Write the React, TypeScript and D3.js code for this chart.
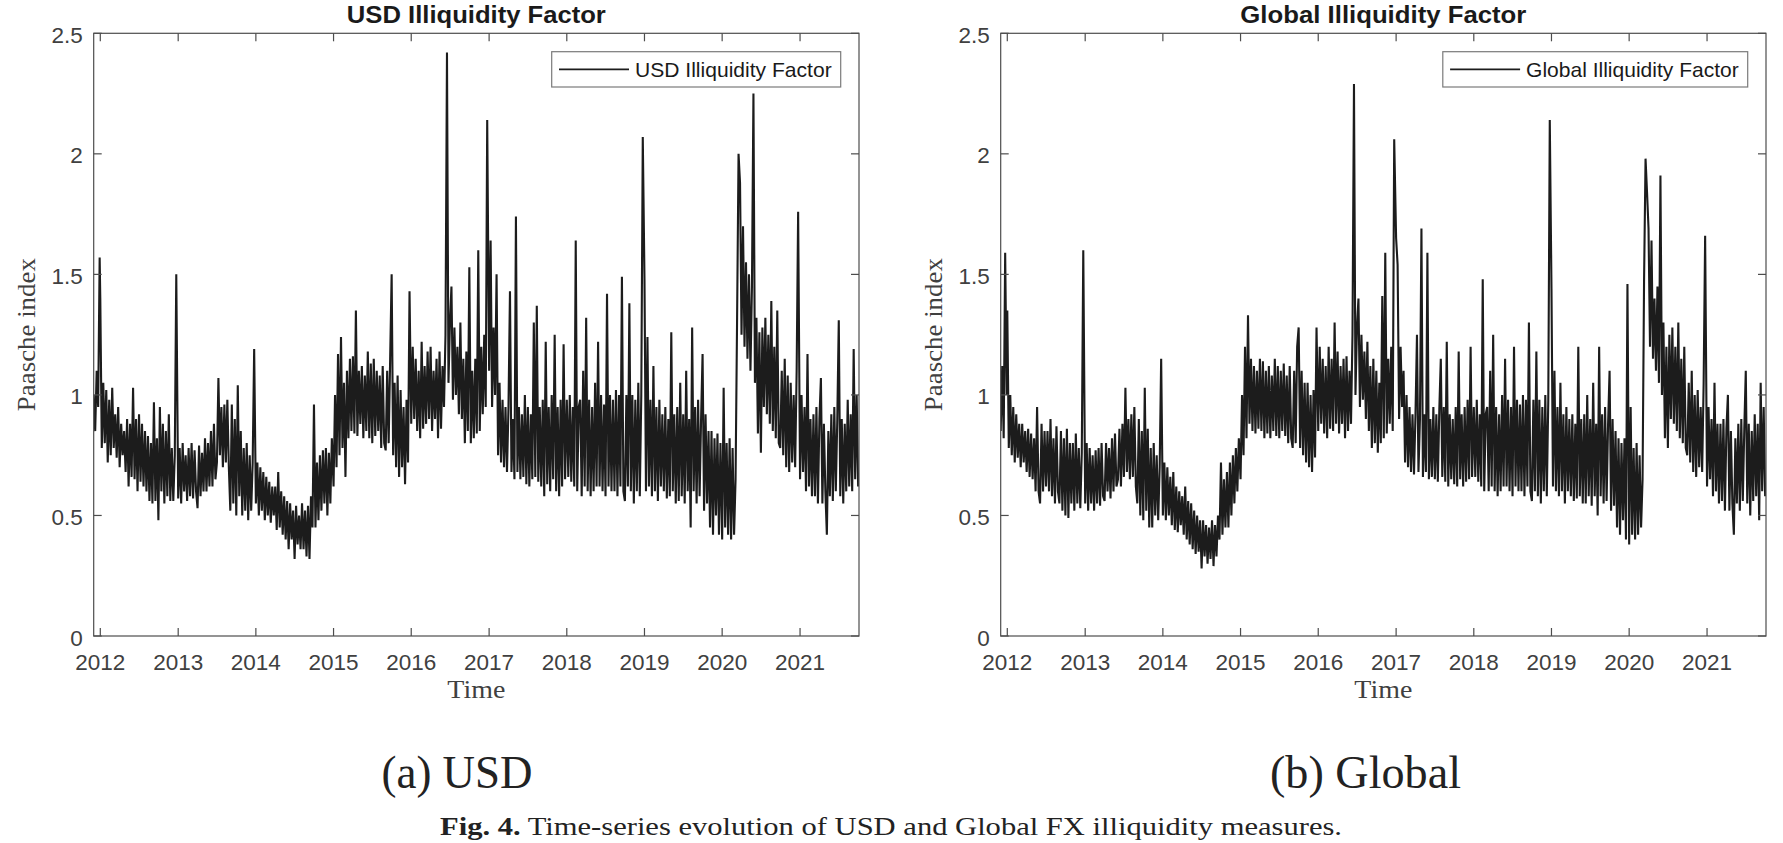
import React from 'react';
import * as d3 from 'd3';

// ---------- DATA (weekly readings of the plotted series) ----------
const yTickValues = [0, 0.5, 1, 1.5, 2, 2.5];
const xTickYears = [2012, 2013, 2014, 2015, 2016, 2017, 2018, 2019, 2020, 2021];

// USD Illiquidity Factor (Paasche index)
const usd2011 = [1.0, 0.85, 1.1, 0.95, 1.57];
const usd2012 = [1.4, 0.78, 1.05, 0.8, 1.02, 0.72, 0.98, 0.75, 1.03, 0.78, 0.92, 0.74, 0.95, 0.7, 0.88, 0.75, 0.85, 0.68, 0.9, 0.62, 0.88, 0.66, 1.03, 0.65, 0.9, 0.6, 0.92, 0.64, 0.88, 0.62, 0.85, 0.6, 0.83, 0.56, 0.8, 0.55, 0.97, 0.56, 0.82, 0.48, 0.95, 0.6, 0.88, 0.55, 0.85, 0.58, 0.92, 0.56, 0.78, 0.56, 0.75, 1.5];
const usd2013 = [0.57, 0.78, 0.55, 0.8, 0.6, 0.75, 0.56, 0.78, 0.58, 0.8, 0.57, 0.77, 0.6, 0.53, 0.79, 0.58, 0.76, 0.6, 0.82, 0.6, 0.8, 0.62, 0.85, 0.62, 0.88, 0.65, 0.72, 1.07, 0.75, 0.95, 0.7, 0.96, 0.72, 0.98, 0.7, 0.52, 0.96, 0.55, 0.9, 0.5, 1.04, 0.58, 0.85, 0.5, 0.78, 0.52, 0.8, 0.48, 0.75, 0.52, 0.72, 1.19];
const usd2014 = [0.55, 0.72, 0.5, 0.7, 0.52, 0.68, 0.48, 0.66, 0.5, 0.64, 0.47, 0.62, 0.5, 0.62, 0.44, 0.68, 0.45, 0.6, 0.42, 0.58, 0.4, 0.56, 0.36, 0.55, 0.4, 0.52, 0.32, 0.54, 0.38, 0.5, 0.36, 0.55, 0.36, 0.52, 0.33, 0.54, 0.32, 0.58, 0.45, 0.96, 0.45, 0.72, 0.48, 0.75, 0.52, 0.77, 0.55, 0.78, 0.5, 0.76, 0.55, 0.82];
const usd2015 = [0.62, 1.0, 0.7, 1.17, 0.75, 1.24, 0.78, 1.05, 0.66, 1.1, 0.82, 1.15, 0.85, 1.16, 0.84, 1.35, 0.83, 1.1, 0.88, 1.12, 0.82, 1.08, 0.85, 1.18, 0.82, 1.13, 0.8, 1.15, 0.83, 1.1, 0.85, 1.08, 0.78, 1.12, 0.8, 0.77, 1.1, 0.8, 1.15, 1.5, 0.75, 1.05, 0.7, 1.08, 0.66, 1.02, 0.7, 0.95, 0.63, 0.98, 0.72, 1.43];
const usd2016 = [0.88, 1.2, 0.9, 1.15, 0.85, 1.1, 0.82, 1.22, 0.86, 1.12, 0.88, 1.18, 0.9, 1.2, 0.85, 1.1, 0.9, 1.15, 0.82, 1.18, 0.86, 1.12, 0.95, 1.25, 2.42, 1.05, 1.3, 1.45, 0.98, 1.28, 1.0, 1.2, 0.92, 1.3, 0.9, 1.15, 0.8, 1.18, 0.85, 1.53, 0.8, 1.1, 0.82, 1.15, 0.84, 1.6, 0.85, 1.2, 0.92, 1.25, 0.95, 2.14];
const usd2017 = [1.1, 1.64, 0.95, 1.28, 1.0, 1.5, 0.75, 1.05, 0.72, 0.98, 0.7, 0.95, 0.68, 0.95, 1.43, 0.68, 0.9, 0.65, 1.74, 0.68, 0.95, 0.65, 0.92, 0.66, 1.0, 0.63, 0.95, 0.62, 0.92, 0.65, 1.3, 0.66, 1.37, 0.64, 0.95, 0.62, 0.98, 0.58, 1.22, 0.63, 0.95, 0.6, 1.0, 0.65, 1.25, 0.6, 0.95, 0.58, 0.98, 0.62, 1.21, 0.65];
const usd2018 = [0.98, 0.66, 1.0, 0.64, 0.95, 0.62, 1.64, 0.6, 0.95, 0.98, 0.58, 1.1, 0.62, 1.32, 0.6, 0.98, 0.58, 0.95, 0.6, 1.05, 0.62, 1.22, 0.62, 1.0, 0.6, 0.96, 0.58, 1.42, 0.62, 1.0, 0.6, 0.98, 0.6, 1.02, 0.58, 1.0, 0.62, 1.49, 0.6, 0.56, 1.0, 0.62, 1.38, 0.6, 1.0, 0.55, 0.98, 0.6, 1.05, 0.58, 1.0, 2.07];
const usd2019 = [1.48, 0.6, 1.24, 0.62, 0.98, 0.58, 1.12, 0.6, 0.95, 0.56, 0.98, 0.62, 0.92, 0.6, 0.95, 0.57, 0.9, 0.58, 1.26, 0.6, 0.92, 0.55, 0.95, 0.56, 1.05, 0.58, 0.92, 0.55, 1.1, 0.6, 0.9, 0.45, 1.28, 0.6, 0.95, 0.55, 0.98, 0.58, 0.9, 1.17, 0.52, 0.92, 0.55, 0.85, 0.45, 0.85, 0.42, 0.82, 0.5, 0.84, 0.42, 0.8];
const usd2020 = [0.4, 1.03, 0.45, 0.8, 0.42, 0.82, 0.4, 0.78, 0.42, 0.65, 1.3, 2.0, 1.88, 1.25, 1.7, 1.2, 1.55, 1.15, 1.5, 1.1, 1.45, 2.25, 1.05, 1.32, 0.84, 1.26, 0.76, 1.28, 0.95, 1.32, 0.92, 1.25, 0.88, 1.39, 0.85, 1.2, 0.82, 1.35, 0.8, 0.78, 1.1, 0.75, 1.15, 0.7, 1.08, 0.68, 1.05, 0.72, 1.0, 0.7, 1.1, 1.76];
const usd2021 = [0.65, 1.0, 0.68, 0.95, 0.6, 1.17, 0.62, 0.9, 0.58, 0.92, 0.58, 0.95, 0.55, 0.9, 1.07, 0.55, 0.88, 0.6, 0.42, 0.85, 0.58, 0.92, 0.56, 0.95, 0.6, 0.9, 1.31, 0.58, 0.9, 0.55, 0.88, 0.6, 0.98, 0.62, 0.92, 0.6, 1.19, 0.65, 1.0, 0.62];

// Global Illiquidity Factor (Paasche index)
const glb2011 = [0.85, 1.12, 0.82, 1.59, 1.0];
const glb2012 = [1.35, 0.78, 1.0, 0.75, 0.95, 0.72, 0.92, 0.74, 0.88, 0.7, 0.88, 0.72, 0.85, 0.68, 0.86, 0.66, 0.84, 0.65, 0.82, 0.6, 0.95, 0.6, 0.55, 0.88, 0.6, 0.85, 0.62, 0.85, 0.6, 0.9, 0.58, 0.82, 0.55, 0.87, 0.6, 0.55, 0.85, 0.52, 0.82, 0.5, 0.86, 0.49, 0.8, 0.55, 0.8, 0.52, 0.84, 0.55, 0.78, 0.53, 0.76, 1.6];
const glb2013 = [0.55, 0.8, 0.52, 0.78, 0.55, 0.75, 0.52, 0.77, 0.55, 0.78, 0.54, 0.8, 0.58, 0.56, 0.8, 0.6, 0.78, 0.57, 0.82, 0.6, 0.84, 0.62, 0.65, 0.86, 0.62, 0.88, 0.66, 1.03, 0.68, 0.9, 0.65, 0.92, 0.66, 0.95, 0.62, 0.55, 0.9, 0.5, 0.85, 0.48, 1.03, 0.52, 0.86, 0.45, 0.78, 0.45, 0.8, 0.5, 0.75, 0.48, 0.7, 1.15];
const glb2014 = [0.5, 0.72, 0.48, 0.7, 0.5, 0.66, 0.46, 0.68, 0.44, 0.62, 0.43, 0.6, 0.46, 0.58, 0.42, 0.62, 0.4, 0.56, 0.38, 0.55, 0.36, 0.52, 0.34, 0.5, 0.35, 0.48, 0.28, 0.48, 0.33, 0.46, 0.3, 0.45, 0.32, 0.48, 0.29, 0.46, 0.33, 0.5, 0.4, 0.72, 0.42, 0.65, 0.45, 0.68, 0.45, 0.72, 0.5, 0.75, 0.55, 0.78, 0.6, 0.82];
const glb2015 = [0.65, 1.0, 0.75, 1.2, 0.82, 1.33, 0.88, 1.15, 0.85, 1.12, 0.84, 1.1, 0.86, 1.15, 0.85, 1.14, 0.82, 1.1, 0.84, 1.12, 0.82, 1.08, 0.85, 1.15, 0.83, 1.12, 0.82, 1.1, 0.85, 1.13, 0.83, 1.08, 0.8, 1.12, 0.82, 0.78, 1.1, 0.8, 1.2, 1.28, 0.78, 1.1, 0.75, 1.05, 0.72, 1.05, 0.7, 1.0, 0.68, 1.02, 0.74, 1.28];
const glb2016 = [0.85, 1.2, 0.88, 1.15, 0.84, 1.12, 0.82, 1.2, 0.86, 1.15, 0.85, 1.3, 0.88, 1.18, 0.84, 1.12, 0.88, 1.15, 0.82, 1.16, 0.85, 1.1, 0.88, 1.25, 2.29, 1.0, 1.28, 1.4, 0.95, 1.25, 0.98, 1.18, 0.9, 1.22, 0.85, 1.12, 0.78, 1.15, 0.8, 1.1, 0.76, 1.05, 0.8, 1.41, 0.82, 1.59, 0.84, 1.15, 0.88, 1.2, 0.85, 2.06];
const glb2017 = [1.65, 1.54, 0.9, 1.2, 0.95, 1.1, 0.72, 1.0, 0.7, 0.95, 0.68, 0.92, 0.67, 0.92, 1.25, 0.68, 0.9, 1.69, 0.66, 0.92, 0.68, 1.59, 0.65, 0.9, 0.66, 0.95, 0.65, 0.92, 0.64, 0.94, 1.15, 0.66, 0.95, 0.64, 1.22, 0.62, 0.92, 0.65, 0.9, 0.63, 0.95, 0.62, 1.18, 0.65, 0.92, 0.62, 0.95, 0.64, 0.98, 0.65, 1.2, 0.66];
const glb2018 = [0.95, 0.66, 0.98, 0.64, 0.92, 0.62, 1.48, 0.6, 0.92, 0.95, 0.6, 1.1, 0.62, 1.25, 0.6, 0.95, 0.58, 0.92, 0.6, 1.0, 0.62, 1.15, 0.62, 0.98, 0.6, 0.95, 0.58, 1.2, 0.62, 0.98, 0.6, 0.96, 0.6, 1.0, 0.58, 0.98, 0.62, 1.3, 0.6, 0.56, 0.98, 0.6, 1.18, 0.58, 0.98, 0.55, 0.95, 0.6, 1.0, 0.58, 0.98, 2.14];
const glb2019 = [1.44, 0.62, 1.1, 0.6, 0.95, 0.58, 1.05, 0.6, 0.92, 0.55, 0.95, 0.6, 0.9, 0.58, 0.92, 0.56, 0.88, 0.57, 1.2, 0.58, 0.9, 0.55, 0.92, 0.55, 1.0, 0.58, 0.9, 0.54, 1.05, 0.58, 0.88, 0.5, 1.2, 0.58, 0.92, 0.55, 0.95, 0.56, 0.88, 1.1, 0.52, 0.9, 0.54, 0.85, 0.45, 0.82, 0.42, 0.8, 0.48, 0.82, 0.4, 1.46];
const glb2020 = [0.38, 0.95, 0.42, 0.78, 0.4, 0.8, 0.42, 0.75, 0.45, 0.65, 1.47, 1.98, 1.84, 1.69, 1.2, 1.64, 1.15, 1.4, 1.1, 1.45, 1.05, 1.91, 1.0, 1.3, 0.82, 1.2, 0.78, 1.25, 0.9, 1.28, 0.88, 1.2, 0.85, 1.3, 0.82, 1.15, 0.8, 1.2, 0.78, 0.75, 1.05, 0.72, 1.1, 0.68, 1.0, 0.66, 1.02, 0.7, 0.95, 0.68, 1.05, 1.66];
const glb2021 = [0.62, 0.95, 0.65, 0.9, 0.58, 1.05, 0.6, 0.88, 0.55, 0.88, 0.56, 0.9, 0.52, 0.86, 1.0, 0.52, 0.85, 0.55, 0.42, 0.82, 0.55, 0.88, 0.52, 0.9, 0.56, 0.86, 1.1, 0.55, 0.88, 0.5, 0.85, 0.56, 0.92, 0.58, 0.88, 0.48, 1.05, 0.6, 0.95, 0.58];

const usdByYear: [number, number[]][] = [
  [2011, usd2011], [2012, usd2012], [2013, usd2013], [2014, usd2014], [2015, usd2015],
  [2016, usd2016], [2017, usd2017], [2018, usd2018], [2019, usd2019], [2020, usd2020], [2021, usd2021],
];
const glbByYear: [number, number[]][] = [
  [2011, glb2011], [2012, glb2012], [2013, glb2013], [2014, glb2014], [2015, glb2015],
  [2016, glb2016], [2017, glb2017], [2018, glb2018], [2019, glb2019], [2020, glb2020], [2021, glb2021],
];

type Pt = { date: Date; v: number };

function buildSeries(byYear: [number, number[]][]): Pt[] {
  const out: Pt[] = [];
  byYear.forEach(([yr, vals]) => {
    vals.forEach((v, i) => {
      const date = yr === 2011 ? new Date(2011, 11, 1 + 7 * i) : new Date(yr, 0, 1 + 7 * i);
      out.push({ date, v });
    });
  });
  return out;
}

// ---------- LAYOUT ----------
const W = 1783;
const H = 843;
const TOP = 33.3;
const BOTTOM = 636;
const SANS = '"Liberation Sans", Arial, Helvetica, sans-serif';
const SERIF = '"Liberation Serif", "Times New Roman", serif';
const AXIS = '#4d4d4d';
const TXT = '#404040';

type PanelCfg = {
  id: string;
  left: number;
  right: number;
  title: string;
  titleLen: number;
  legend: string;
  legendTextLen: number;
  series: Pt[];
};

function Panel({ cfg }: { cfg: PanelCfg }) {
  const x = d3.scaleTime().domain([new Date(2011, 11, 1), new Date(2021, 9, 5)]).range([cfg.left, cfg.right]);
  const y = d3.scaleLinear().domain([0, 2.5]).range([BOTTOM, TOP]);
  const line = d3.line<Pt>().x((d) => x(d.date)).y((d) => y(d.v));
  const cx = (cfg.left + cfg.right) / 2;
  const tick = 8;

  const legW = 7.3 + 70 + 6 + cfg.legendTextLen + 9;
  const legX = cfg.right - 18.3 - legW;
  const legY = TOP + 18.4;
  const legH = 35.3;

  return (
    <g>
      <defs>
        <clipPath id={`clip-${cfg.id}`}>
          <rect x={cfg.left} y={TOP} width={cfg.right - cfg.left} height={BOTTOM - TOP} />
        </clipPath>
      </defs>
      <path
        d={line(cfg.series) || ''}
        fill="none"
        stroke="#1c1c1c"
        strokeWidth={2.1}
        strokeMiterlimit={2}
        clipPath={`url(#clip-${cfg.id})`}
      />
      {/* axes box */}
      <rect x={cfg.left} y={TOP} width={cfg.right - cfg.left} height={BOTTOM - TOP} fill="none" stroke={AXIS} strokeWidth={1.2} />
      {/* x ticks */}
      {xTickYears.map((yr) => {
        const px = x(new Date(yr, 0, 1));
        return (
          <g key={yr}>
            <line x1={px} x2={px} y1={BOTTOM} y2={BOTTOM - tick} stroke={AXIS} strokeWidth={1.2} />
            <line x1={px} x2={px} y1={TOP} y2={TOP + tick} stroke={AXIS} strokeWidth={1.2} />
            <text x={px} y={670} textAnchor="middle" fontFamily={SANS} fontSize={22.5} fill={TXT}>
              {yr}
            </text>
          </g>
        );
      })}
      {/* y ticks */}
      {yTickValues.map((v) => {
        const py = y(v);
        return (
          <g key={v}>
            <line x1={cfg.left} x2={cfg.left + tick} y1={py} y2={py} stroke={AXIS} strokeWidth={1.2} />
            <line x1={cfg.right} x2={cfg.right - tick} y1={py} y2={py} stroke={AXIS} strokeWidth={1.2} />
            <text x={cfg.left - 11} y={py + 9.5} textAnchor="end" fontFamily={SANS} fontSize={22.5} fill={TXT}>
              {String(v)}
            </text>
          </g>
        );
      })}
      {/* title */}
      <text
        x={cx}
        y={23}
        textAnchor="middle"
        fontFamily={SANS}
        fontWeight="bold"
        fontSize={24}
        fill="#1a1a1a"
        textLength={cfg.titleLen}
        lengthAdjust="spacingAndGlyphs"
      >
        {cfg.title}
      </text>
      {/* axis labels */}
      <text x={cx} y={698} textAnchor="middle" fontFamily={SERIF} fontSize={26} fill={TXT} textLength={58} lengthAdjust="spacingAndGlyphs">
        Time
      </text>
      <text
        transform={`translate(${cfg.left - 58.7},${(TOP + BOTTOM) / 2}) rotate(-90)`}
        textAnchor="middle"
        fontFamily={SERIF}
        fontSize={26}
        fill={TXT}
        textLength={153}
        lengthAdjust="spacingAndGlyphs"
      >
        Paasche index
      </text>
      {/* legend */}
      <rect x={legX} y={legY} width={legW} height={legH} fill="#ffffff" stroke="#7a7a7a" strokeWidth={1.2} />
      <line x1={legX + 7.3} x2={legX + 77.3} y1={legY + 17.6} y2={legY + 17.6} stroke="#1c1c1c" strokeWidth={1.8} />
      <text
        x={legX + 83.3}
        y={legY + 25.6}
        fontFamily={SANS}
        fontSize={21}
        fill="#1a1a1a"
        textLength={cfg.legendTextLen}
        lengthAdjust="spacingAndGlyphs"
      >
        {cfg.legend}
      </text>
    </g>
  );
}

export default function App() {
  const usd = buildSeries(usdByYear);
  const glb = buildSeries(glbByYear);
  const panels: PanelCfg[] = [
    {
      id: 'usd',
      left: 93.7,
      right: 859,
      title: 'USD Illiquidity Factor',
      titleLen: 259,
      legend: 'USD Illiquidity Factor',
      legendTextLen: 196.7,
      series: usd,
    },
    {
      id: 'glb',
      left: 1000.7,
      right: 1766,
      title: 'Global Illiquidity Factor',
      titleLen: 286,
      legend: 'Global Illiquidity Factor',
      legendTextLen: 212.6,
      series: glb,
    },
  ];
  return (
    <div style={{ position: 'absolute', left: 0, top: 0, width: W, height: H, overflow: 'hidden', background: '#fff' }}>
      <svg width={W} height={H} viewBox={`0 0 ${W} ${H}`} style={{ display: 'block' }}>
        <rect x={0} y={0} width={W} height={H} fill="#ffffff" />
        {panels.map((p) => (
          <Panel key={p.id} cfg={p} />
        ))}
        <text x={457} y={788} textAnchor="middle" fontFamily={SERIF} fontSize={47} fill="#222" textLength={151} lengthAdjust="spacingAndGlyphs">
          (a) USD
        </text>
        <text x={1365.5} y={788} textAnchor="middle" fontFamily={SERIF} fontSize={47} fill="#222" textLength={191} lengthAdjust="spacingAndGlyphs">
          (b) Global
        </text>
        <text x={440} y={835} fontFamily={SERIF} fontSize={25} fill="#222" textLength={902} lengthAdjust="spacingAndGlyphs">
          <tspan fontWeight="bold">Fig. 4.</tspan>
          <tspan>{'  Time-series evolution of USD and Global FX illiquidity measures.'}</tspan>
        </text>
      </svg>
    </div>
  );
}
